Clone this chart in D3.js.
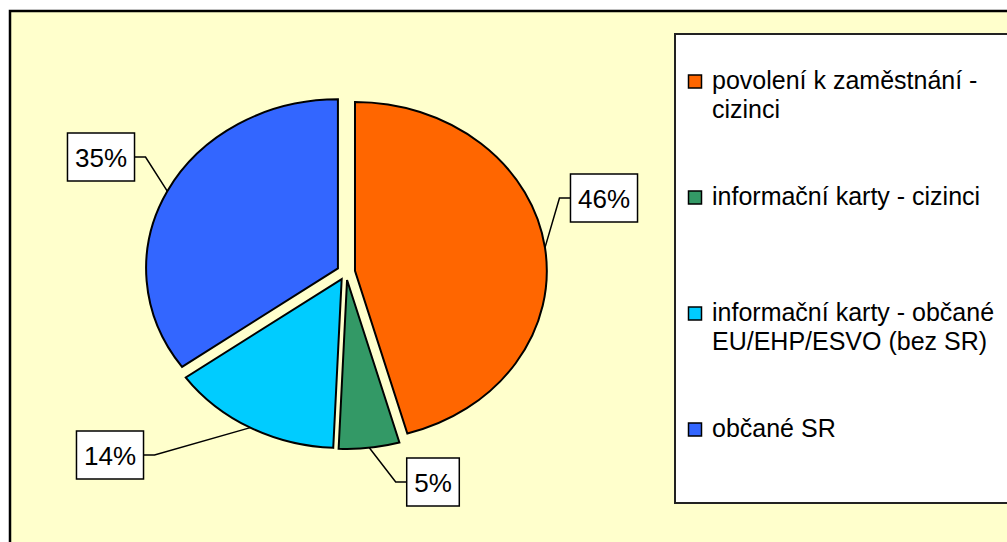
<!DOCTYPE html>
<html>
<head>
<meta charset="utf-8">
<title>Pie</title>
<style>
    body { margin: 0; background: #ffffff; }
    svg { display: block; font-family: "Liberation Sans", Arial, sans-serif; }
    .slice { stroke: #000; stroke-width: 2px; vector-effect: non-scaling-stroke; }
    .leader { fill: none; stroke: #000; stroke-width: 1.5px; }
    .lbl rect { fill: #fff; stroke: #000; stroke-width: 1.5px; }
    .lbl text { font-size: 26px; text-anchor: middle; }
    .legend text { font-size: 25px; }
</style>
<script src="https://cdn.jsdelivr.net/npm/d3@7"></script>
</head>
<body>
<script>
    // categories (legend text, already broken into lines as in the picture)
    const categories = [
        ["povolení k zaměstnání -", "cizinci"],
        ["informační karty - cizinci"],
        ["informační karty - občané", "EU/EHP/ESVO (bez SR)"],
        ["občané SR"]
    ];
    const values = [45.6, 5.1, 14.4, 34.9];
    const colors = ["#ff6600", "#339966", "#00ccff", "#3366ff"];

    const width = 1007, height = 542;
    const cx = 346, cy = 272, r = 169, xStretch = 1.135, explode = 8;

    // label box centres (layout only)
    const labelPos = [[604, 198], [433, 482], [110, 455], [101, 157]];

    const svg = d3.select("body").append("svg")
        .attr("width", width)
        .attr("height", height);

    // chart area
    svg.append("rect")
        .attr("x", 10).attr("y", 11)
        .attr("width", 1010).attr("height", 545)
        .attr("fill", "#ffffcc")
        .attr("stroke", "#000")
        .attr("stroke-width", 2.5);

    const pie = d3.pie().sort(null).value(d => d)(values);
    const arc = d3.arc().innerRadius(0).outerRadius(r);

    function mid(d) { return (d.startAngle + d.endAngle) / 2; }
    // screen coordinates of a point at angle a and radius rr for slice d
    function pt(d, a, rr) {
        const m = mid(d);
        const ox = explode * Math.sin(m), oy = -explode * Math.cos(m);
        return [cx + xStretch * (ox + rr * Math.sin(a)), cy + oy - rr * Math.cos(a)];
    }

    const pg = svg.append("g")
        .attr("transform", "translate(" + cx + "," + cy + ") scale(" + xStretch + ",1)");

    pg.selectAll("path")
        .data(pie)
        .enter().append("path")
        .attr("class", "slice")
        .attr("fill", (d, i) => colors[i])
        .attr("transform", d => "translate(" + (explode * Math.sin(mid(d))) + "," + (-explode * Math.cos(mid(d))) + ")")
        .attr("d", arc);

    // data labels
    pie.forEach((d, i) => {
        const p = pt(d, mid(d), r);
        const [lx, ly] = labelPos[i];
        const g = svg.append("g").attr("class", "lbl");
        const rect = g.append("rect");
        const t = g.append("text")
            .attr("x", lx).attr("y", ly + 9.5)
            .text(Math.round(d.value) + "%");
        const w = t.node().getComputedTextLength() + 15, h = 48;
        rect.attr("x", lx - w / 2).attr("y", ly - h / 2)
            .attr("width", w).attr("height", h);
        const side = p[0] > lx ? 1 : -1;
        const edge = lx + side * w / 2;
        svg.insert("polyline", ".lbl")
            .attr("class", "leader")
            .attr("points", [[edge, ly], [edge + side * 11, ly], p].map(q => q.join(",")).join(" "));
    });

    // legend
    const legend = svg.append("g").attr("class", "legend");
    legend.append("rect")
        .attr("x", 675).attr("y", 34)
        .attr("width", 400).attr("height", 469)
        .attr("fill", "#fff")
        .attr("stroke", "#222")
        .attr("stroke-width", 2);

    categories.forEach((lines, i) => {
        const by = 89 + i * 116;
        legend.append("rect")
            .attr("x", 688.5).attr("y", by - 14)
            .attr("width", 13).attr("height", 13)
            .attr("fill", colors[i])
            .attr("stroke", "#000")
            .attr("stroke-width", 1.5);
        const t = legend.append("text").attr("x", 712).attr("y", by);
        lines.forEach((s, j) => {
            t.append("tspan").attr("x", 712).attr("y", by + j * 29).text(s);
        });
    });
</script>
</body>
</html>
